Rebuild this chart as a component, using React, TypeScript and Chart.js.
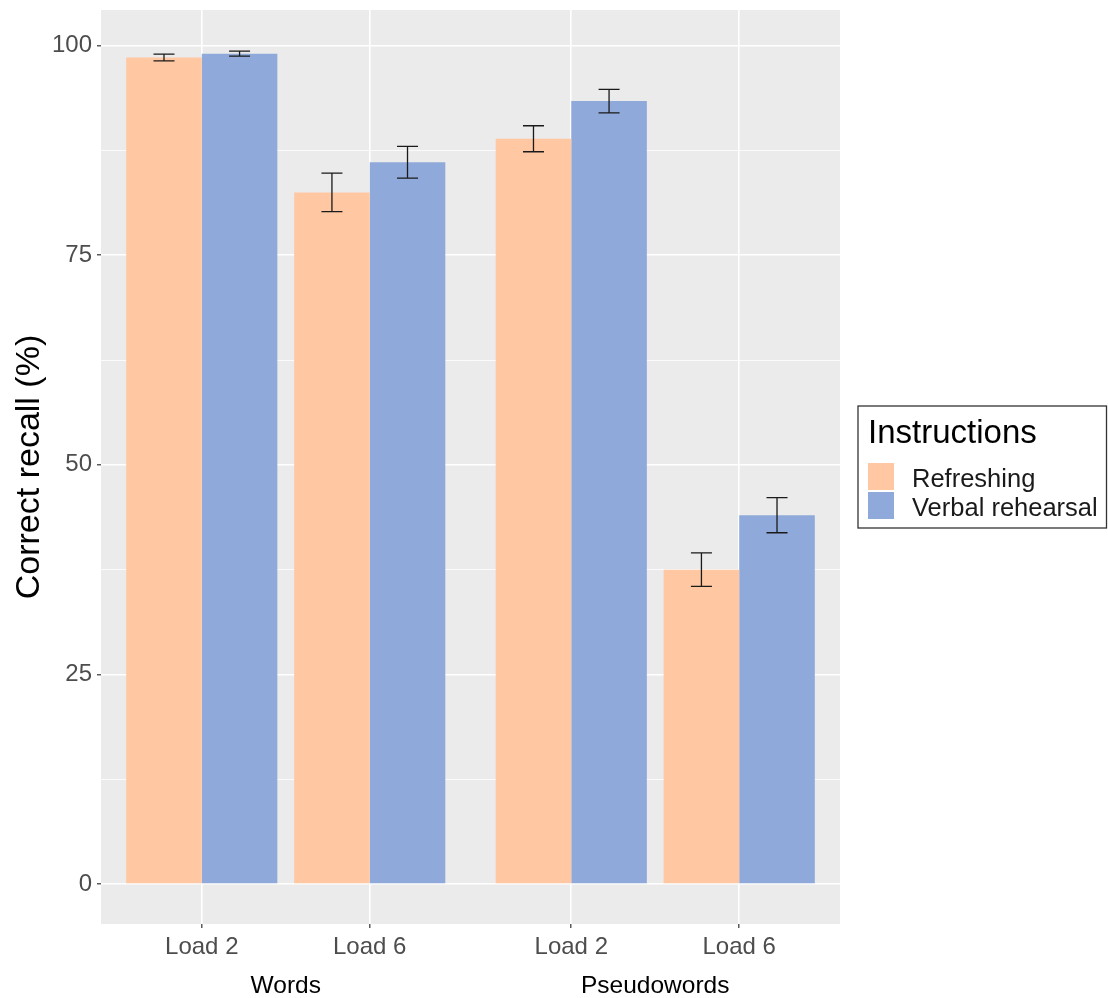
import React, { useEffect, useRef } from 'react';
import { Chart, registerables } from 'chart.js';

Chart.register(...registerables);

// ---- data ----
const groups = ['Words', 'Pseudowords'];
const loads = ['Load 2', 'Load 6'];
const seriesNames = ['Refreshing', 'Verbal rehearsal'];
const refreshing = [98.6, 82.5, 88.9, 37.5];
const refreshingSE = [0.4, 2.3, 1.55, 2.0];
const verbal = [99.05, 86.1, 93.4, 44.0];
const verbalSE = [0.3, 1.9, 1.4, 2.1];
const yMajorTicks = [0, 25, 50, 75, 100];
const yMinorTicks = [12.5, 37.5, 62.5, 87.5];
const legendTitle = 'Instructions';
const yTitle = 'Correct recall (%)';

// ---- layout helpers ----
const GROUP_GAP = 0.2;
const xPos: number[] = [];
groups.forEach((_, g) => loads.forEach((__, l) => xPos.push(1 + g * (loads.length + GROUP_GAP) + l)));
const tickLabels = groups.flatMap(() => loads);
const groupCenters = groups.map((_, g) => {
  const p = xPos.slice(g * loads.length, (g + 1) * loads.length);
  return (p[0] + p[p.length - 1]) / 2;
});
const allYTicks = [...yMajorTicks, ...yMinorTicks].sort((a, b) => a - b);

const COLORS = ['#FFC8A2', '#8FAADA'];
const FONT = "'Liberation Sans', Arial, sans-serif";

export default function App() {
  const ref = useRef<HTMLCanvasElement | null>(null);

  useEffect(() => {
    if (!ref.current) return;
    Chart.defaults.font.family = FONT;
    const errs = [refreshingSE, verbalSE];

    const bgPlugin = {
      id: 'panelBg',
      beforeDraw(chart: any) {
        const { ctx, chartArea: a } = chart;
        ctx.save();
        ctx.fillStyle = '#EBEBEB';
        ctx.fillRect(a.left, a.top, a.right - a.left, a.bottom - a.top);
        ctx.restore();
      },
    };

    const errPlugin = {
      id: 'errBars',
      afterDatasetsDraw(chart: any) {
        const { ctx } = chart;
        const y = chart.scales.y;
        ctx.save();
        ctx.strokeStyle = '#1A1A1A';
        ctx.lineWidth = 1.3;
        chart.data.datasets.forEach((ds: any, di: number) => {
          const meta = chart.getDatasetMeta(di);
          meta.data.forEach((el: any, i: number) => {
            const v = ds.data[i].y;
            const e = errs[di][i];
            const yl = y.getPixelForValue(v - e);
            const yh = y.getPixelForValue(v + e);
            const cx = el.x;
            const hw = 10.5;
            ctx.beginPath();
            ctx.moveTo(cx, yl);
            ctx.lineTo(cx, yh);
            ctx.moveTo(cx - hw, yl);
            ctx.lineTo(cx + hw, yl);
            ctx.moveTo(cx - hw, yh);
            ctx.lineTo(cx + hw, yh);
            ctx.stroke();
          });
        });
        ctx.restore();
      },
    };

    const legendPlugin = {
      id: 'legendBox',
      afterDraw(chart: any) {
        const { ctx } = chart;
        ctx.save();
        ctx.strokeStyle = '#333333';
        ctx.lineWidth = 1.3;
        ctx.strokeRect(858, 406, 248.5, 122);
        ctx.fillStyle = '#000000';
        ctx.textBaseline = 'alphabetic';
        ctx.textAlign = 'left';
        ctx.font = `33px ${FONT}`;
        ctx.fillText(legendTitle, 868, 443);
        seriesNames.forEach((name, i) => {
          const top = 463 + i * 29;
          ctx.fillStyle = COLORS[i];
          ctx.fillRect(868, top, 26, 27);
          ctx.fillStyle = '#1A1A1A';
          ctx.font = `25.5px ${FONT}`;
          ctx.fillText(name, 912, top + 23.5);
        });
        ctx.restore();
      },
    };

    const chart = new Chart(ref.current, {
      type: 'bar',
      data: {
        datasets: [
          {
            label: seriesNames[0],
            data: xPos.map((x, i) => ({ x, y: refreshing[i] })),
            backgroundColor: COLORS[0],
            categoryPercentage: 0.9,
            barPercentage: 1,
          },
          {
            label: seriesNames[1],
            data: xPos.map((x, i) => ({ x, y: verbal[i] })),
            backgroundColor: COLORS[1],
            categoryPercentage: 0.9,
            barPercentage: 1,
          },
        ] as any,
      },
      options: {
        responsive: false,
        animation: false,
        devicePixelRatio: 1,
        layout: { padding: { top: 10, right: 268, left: 0, bottom: 0 } },
        plugins: { legend: { display: false }, tooltip: { enabled: false } },
        scales: {
          x: {
            type: 'linear',
            position: 'bottom',
            weight: 0,
            min: 0.4,
            max: 4.8,
            offset: false,
            afterBuildTicks: (s: any) => {
              s.ticks = xPos.map((v) => ({ value: v }));
            },
            afterFit: (s: any) => {
              s.height = 38;
              s.paddingLeft = 0;
              s.paddingRight = 0;
            },
            ticks: {
              autoSkip: false,
              maxRotation: 0,
              minRotation: 0,
              padding: 5,
              color: '#4D4D4D',
              font: { size: 24, family: FONT },
              callback: (_v: any, i: number) => tickLabels[i],
            },
            grid: {
              offset: false,
              color: '#FFFFFF',
              lineWidth: 1.6,
              tickColor: '#333333',
              tickLength: 4,
              tickWidth: 1.2,
            },
            border: { display: false },
          },
          x2: {
            type: 'linear',
            position: 'bottom',
            weight: 1,
            min: 0.4,
            max: 4.8,
            offset: false,
            afterBuildTicks: (s: any) => {
              s.ticks = groupCenters.map((v) => ({ value: v }));
            },
            afterFit: (s: any) => {
              s.height = 36;
              s.paddingLeft = 0;
              s.paddingRight = 0;
            },
            ticks: {
              autoSkip: false,
              maxRotation: 0,
              minRotation: 0,
              padding: 10,
              color: '#000000',
              font: { size: 24.5, family: FONT },
              callback: (_v: any, i: number) => groups[i],
            },
            grid: { display: false, drawTicks: false },
            border: { display: false },
          },
          y: {
            type: 'linear',
            min: -4.77,
            max: 104.26,
            afterBuildTicks: (s: any) => {
              s.ticks = allYTicks.map((v) => ({ value: v }));
            },
            afterFit: (s: any) => {
              s.width = 101;
              s.paddingTop = 0;
              s.paddingBottom = 0;
            },
            ticks: {
              padding: 5,
              color: '#4D4D4D',
              font: { size: 24, family: FONT },
              callback: (v: any) => (yMajorTicks.includes(Number(v)) ? String(v) : ''),
            },
            grid: {
              color: '#FFFFFF',
              lineWidth: (c: any) => (yMajorTicks.includes(c.tick?.value) ? 1.6 : 0.8),
              tickColor: (c: any) => (yMajorTicks.includes(c.tick?.value) ? '#333333' : 'rgba(0,0,0,0)'),
              tickLength: 4,
              tickWidth: 1.2,
            },
            border: { display: false },
            title: {
              display: true,
              text: yTitle,
              color: '#000000',
              font: { size: 34, family: FONT },
              padding: { top: 9, bottom: 0 },
            },
          },
        } as any,
      },
      plugins: [bgPlugin, errPlugin, legendPlugin],
    });

    return () => chart.destroy();
  }, []);

  return (
    <div style={{ position: 'absolute', left: 0, top: 0, width: 1108, height: 998 }}>
      <canvas ref={ref} width={1108} height={998} style={{ width: 1108, height: 998, display: 'block' }} />
    </div>
  );
}
